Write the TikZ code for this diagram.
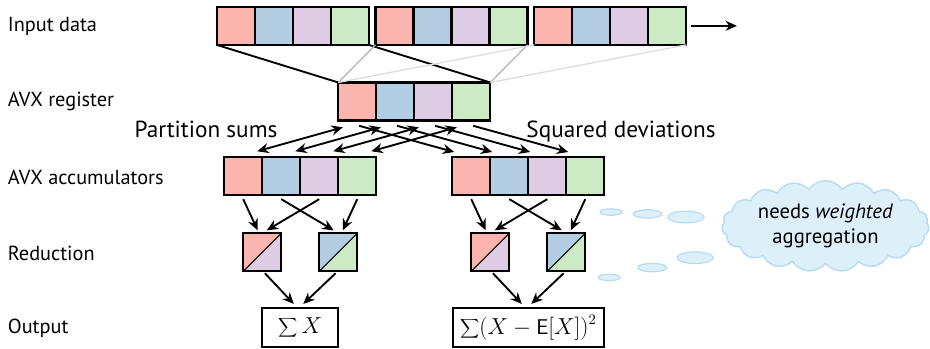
\documentclass[tikz,border=0pt]{standalone}
\usepackage{fontspec}
\setmainfont{PT Sans}
\usepackage{xcolor}
\usepackage{tikz}
\usetikzlibrary{positioning,calc,shapes.geometric,shapes.symbols,arrows.meta}

\definecolor{lanered}{HTML}{FBB4AE}
\definecolor{laneblue}{HTML}{B3CDE3}
\definecolor{lanepurple}{HTML}{DECBE4}
\definecolor{lanegreen}{HTML}{CCEBC5}
\definecolor{cloudfill}{HTML}{DDEFF9}
\definecolor{cloudline}{HTML}{B6DDF1}

\tikzset{
  cell/.style={draw, line width=1.6pt, minimum size=1cm, inner sep=0pt, outer sep=0pt},
  halves/.style 2 args={cell, path picture={
      \fill[#1] (path picture bounding box.north west) -- (path picture bounding box.north east)
                -- (path picture bounding box.south west) -- cycle;
      \fill[#2] (path picture bounding box.north east) -- (path picture bounding box.south east)
                -- (path picture bounding box.south west) -- cycle;
      \draw[line width=0.7pt] (path picture bounding box.south west) -- (path picture bounding box.north east);}},
  arr/.style={-{Stealth[length=8.5pt,width=7.5pt]}, line width=1.4pt},
  twoway/.style={{Stealth[length=8.5pt,width=7.5pt]}-{Stealth[length=8.5pt,width=7.5pt]}, line width=1.4pt},
  rowlabel/.style={anchor=west, inner sep=0pt, font=\fontsize{15.2}{18}\selectfont},
  bigtext/.style={anchor=base, inner sep=0pt, font=\fontsize{17.4}{20}\selectfont},
  outbox/.style={draw, line width=1.6pt, minimum height=1.03cm, inner xsep=2pt, font=\fontsize{16}{19}\selectfont},
  bubble/.style={ellipse, fill=cloudfill, draw=cloudline, line width=0.9pt, inner sep=0pt},
}

\begin{document}
\begin{tikzpicture}
    \useasboundingbox (0,0) rectangle (24.47,-9.16);

    % Row labels
    \node[rowlabel] (lblin)  at (0.2,-0.7) {Input data};
    \node[rowlabel] (lblreg) at (0.2,-2.68) {AVX register};
    \node[rowlabel] (lblacc) at (0.2,-4.66) {AVX accumulators};
    \node[rowlabel] (lblred) at (0.2,-6.66) {Reduction};
    \node[rowlabel] (lblout) at (0.2,-8.64) {Output};

    % Input data
    \foreach \g/\x in {1/5.7, 2/9.88, 3/14.06}
      \foreach \c [count=\i] in {lanered,laneblue,lanepurple,lanegreen}
        \node[cell, fill=\c] (in\g-\i) at (\x+\i-0.5,-0.68) {};
    \coordinate (more) at (19.39,-0.68);
    \draw[arr] ([xshift=0.13cm]in3-4.east) -- (more);

    % AVX register
    \foreach \c [count=\i] in {lanered,laneblue,lanepurple,lanegreen}
      \node[cell, fill=\c] (reg\i) at (8.4+\i,-2.67) {};

    % Loads into the register
    \draw[line width=1.4pt] (in1-1.south west) -- (reg1.north west);
    \draw[line width=1.4pt] (in1-4.south east) -- (reg4.north east);
    \draw[line width=1pt, black!28] (in2-1.south west) -- (reg1.north west);
    \draw[line width=1pt, black!28] (in2-4.south east) -- (reg4.north east);
    \draw[line width=1pt, black!13] (in3-1.south west) -- (reg1.north west);
    \draw[line width=1pt, black!13] (in3-4.south east) -- (reg4.north east);

    % AVX accumulators
    \foreach \c [count=\i] in {lanered,laneblue,lanepurple,lanegreen} {
      \node[cell, fill=\c] (lacc\i) at (5.4+\i,-4.64) {};
      \node[cell, fill=\c] (racc\i) at (11.4+\i,-4.64) {};
    }

    \node[bigtext] (psums) at (5.42,-3.63) {Partition sums};
    \node[bigtext] (sqdev) at (16.34,-3.61) {Squared deviations};

    \foreach \i in {1,...,4} {
      \draw[twoway] ([shift={(0.12,-0.18)}]reg\i.south west) -- ([shift={(-0.13,0.16)}]lacc\i.north east);
      \draw[arr] ([shift={(0.05,-0.14)}]reg\i.south) -- ([shift={(0.05,0.14)}]racc\i.north west);
    }

    % Reduction
    \node[halves={lanered}{lanepurple}] (lred1) at (6.9,-6.64) {};
    \node[halves={laneblue}{lanegreen}] (lred2) at (8.9,-6.64) {};
    \node[halves={lanered}{lanepurple}] (rred1) at (12.9,-6.64) {};
    \node[halves={laneblue}{lanegreen}] (rred2) at (14.9,-6.64) {};

    \foreach \s in {l,r} {
      \draw[arr] ([yshift=-0.1cm]\s acc1.south) -- ([shift={(-0.12,0.08)}]\s red1.north);
      \draw[arr] ([yshift=-0.1cm]\s acc3.south) -- ([shift={(0.12,0.08)}]\s red1.north);
      \draw[arr] ([yshift=-0.1cm]\s acc2.south) -- ([shift={(-0.12,0.08)}]\s red2.north);
      \draw[arr] ([yshift=-0.1cm]\s acc4.south) -- ([shift={(0.12,0.08)}]\s red2.north);
    }

    % Output
    \node[outbox, minimum width=2cm] (lout) at (7.9,-8.62) {$\displaystyle\sum X$};
    \node[outbox, minimum width=3.97cm] (rout) at (13.9,-8.62) {$\displaystyle\sum(X-\mathsf{E}[X])^2$};

    \foreach \s in {l,r} {
      \draw[arr] ([shift={(0.07,-0.05)}]\s red1.south) -- ([shift={(-0.17,0.08)}]\s out.north);
      \draw[arr] ([shift={(-0.07,-0.05)}]\s red2.south) -- ([shift={(0.08,0.08)}]\s out.north);
    }

    % Thought cloud
    \node[cloud, cloud puffs=19, cloud puff arc=110, cloud ignores aspect,
          minimum width=5.38cm, minimum height=2.15cm, fill=cloudfill, draw=cloudline,
          line width=1.1pt, align=center, font=\fontsize{15.5}{18.5}\selectfont]
          (note) at (21.72,-5.95) {needs \emph{weighted}\\aggregation};
    \node[bubble, minimum width=0.58cm, minimum height=0.17cm] (ta) at (16.08,-5.58) {};
    \node[bubble, minimum width=0.76cm, minimum height=0.22cm] (tb) at (17.04,-5.63) {};
    \node[bubble, minimum width=0.95cm, minimum height=0.31cm] (tc) at (18.05,-5.71) {};
    \node[bubble, minimum width=0.58cm, minimum height=0.17cm] (ba) at (16.03,-7.30) {};
    \node[bubble, minimum width=0.76cm, minimum height=0.22cm] (bb) at (17.16,-7.04) {};
    \node[bubble, minimum width=0.95cm, minimum height=0.31cm] (bc) at (18.29,-6.78) {};
\end{tikzpicture}
\end{document}
